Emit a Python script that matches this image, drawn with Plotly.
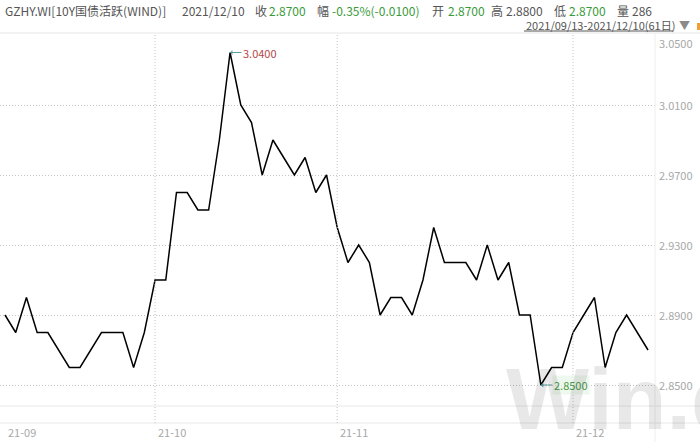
import plotly.graph_objects as go

# ---- data ----
values = [2.89, 2.88, 2.90, 2.88, 2.88, 2.87, 2.86, 2.86, 2.87, 2.88, 2.88, 2.88, 2.86, 2.88,
          2.91, 2.91, 2.96, 2.96, 2.95, 2.95, 2.99, 3.04, 3.01, 3.00, 2.97, 2.99, 2.98, 2.97, 2.98, 2.96, 2.97,
          2.94, 2.92, 2.93, 2.92, 2.89, 2.90, 2.90, 2.89, 2.91, 2.94, 2.92, 2.92, 2.92, 2.91, 2.93, 2.91, 2.92,
          2.89, 2.89, 2.85, 2.86, 2.86,
          2.88, 2.89, 2.90, 2.86, 2.88, 2.89, 2.88, 2.87]
x_labels = ["21-09", "21-10", "21-11", "21-12"]
x_label_idx = [0, 14, 31, 53]
y_ticks = [3.05, 3.01, 2.97, 2.93, 2.89, 2.85]

idx = list(range(len(values)))

W, H = 700, 442
PL, PR, PT, PB = 0, 655, 35, 406          # plot area in pixels
pw, ph = PR - PL, PB - PT

def px(x):
    return (x - PL) / pw

def py(y):
    return (PB - y) / ph

FONT = "Noto Sans CJK SC, Noto Sans, sans-serif"
GRAY_TXT = "#555555"
GREEN = "#3a9a3a"
AXIS_TXT = "#a8a8a8"
GRID_DASH = "1px,2px"

fig = go.Figure()
fig.add_trace(go.Scatter(x=idx, y=values, mode="lines",
                         line=dict(color="#000000", width=1.5),
                         hoverinfo="y", showlegend=False))

ann = []
# header line 1: (x, text, colour)
hdr = [
    (3, "GZHY.WI[10Y国债活跃(WIND)]", GRAY_TXT),
    (180, "2021/12/10", GRAY_TXT),
    (253, "收", GRAY_TXT), (267, "2.8700", GREEN),
    (315, "幅", GRAY_TXT), (330, "-0.35%(-0.0100)", GREEN),
    (430, "开", GRAY_TXT), (446, "2.8700", GREEN),
    (489, "高", GRAY_TXT), (504, "2.8800", GRAY_TXT),
    (552, "低", GRAY_TXT), (567, "2.8700", GREEN),
    (615, "量", GRAY_TXT), (630, "286", GRAY_TXT),
]
for x0, t, c in hdr:
    ann.append(dict(xref="paper", yref="paper", x=px(x0), y=py(10), text=t, showarrow=False,
                    xanchor="left", yanchor="middle", font=dict(family=FONT, size=12, color=c)))
# header line 2
ann.append(dict(xref="paper", yref="paper", x=px(524), y=py(25), text="2021/09/13-2021/12/10(61日)",
                showarrow=False, xanchor="left", yanchor="middle",
                font=dict(family=FONT, size=11, color=GRAY_TXT)))
ann.append(dict(xref="paper", yref="paper", x=px(677), y=py(25), text="▼",
                showarrow=False, xanchor="left", yanchor="middle",
                font=dict(family=FONT, size=11, color="#8a8a8a")))

# y tick labels (right)
for v in y_ticks:
    ann.append(dict(xref="paper", yref="y", x=1, y=v, text=f"{v:.4f}", showarrow=False,
                    xanchor="left", yanchor="middle", xshift=2, yshift=-8 if v == max(y_ticks) else 0,
                    font=dict(family=FONT, size=11, color=AXIS_TXT)))
# x labels
for i, t in zip(x_label_idx, x_labels):
    ann.append(dict(xref="x", yref="paper", x=i, y=0, text=t, showarrow=False,
                    xanchor="left", yanchor="middle", xshift=1, yshift=-26,
                    font=dict(family=FONT, size=11, color=AXIS_TXT)))

# max / min markers
imax = values.index(max(values))
imin = values.index(min(values))
ann.append(dict(xref="x", yref="y", x=imax, y=values[imax], text=f"{values[imax]:.4f}",
                showarrow=True, ax=30, ay=0, arrowhead=1, arrowsize=0.8, arrowwidth=1,
                arrowcolor="#5f9e9e", standoff=0,
                font=dict(family=FONT, size=11, color="#b04848")))
ann.append(dict(xref="x", yref="y", x=imin, y=values[imin], text=f"{values[imin]:.4f}",
                showarrow=True, ax=30, ay=0, arrowhead=1, arrowsize=0.8, arrowwidth=1,
                arrowcolor="#5f9e9e", standoff=0, bgcolor="rgba(232,245,232,0.7)",
                font=dict(family=FONT, size=11, color="#4a9a4a")))

# watermark
ann.append(dict(xref="paper", yref="paper", x=px(504), y=py(430), text="Win.d", showarrow=False,
                xanchor="left", yanchor="bottom", yshift=-20, opacity=0.085,
                font=dict(family="Liberation Sans, Arial, sans-serif",
                          size=88, color="#000000", weight="bold")))

shapes = []
# header separator
shapes.append(dict(type="line", xref="paper", yref="paper", x0=0, x1=W / pw, y0=py(33), y1=py(33),
                   line=dict(color="#e6e6e6", width=1)))
# underline of range text
shapes.append(dict(type="line", xref="paper", yref="paper", x0=px(524), x1=px(673), y0=py(31), y1=py(31),
                   line=dict(color="#555555", width=1)))
# bottom bands
shapes.append(dict(type="line", xref="paper", yref="paper", x0=0, x1=W / pw, y0=0, y1=0,
                   line=dict(color="#e8e8e8", width=1)))
shapes.append(dict(type="line", xref="paper", yref="paper", x0=0, x1=W / pw, y0=py(423), y1=py(423),
                   line=dict(color="#e8e8e8", width=1)))
# right separator
shapes.append(dict(type="line", xref="paper", yref="paper", x0=1, x1=1, y0=py(442), y1=py(33),
                   line=dict(color="#eeeeee", width=1)))
# vertical month gridlines
for i in x_label_idx[1:]:
    shapes.append(dict(type="line", xref="x", yref="paper", x0=i, x1=i, y0=py(423), y1=py(33),
                       line=dict(color="#c4c4c4", width=1, dash=GRID_DASH)))
# tiny orange corner mark
shapes.append(dict(type="rect", xref="paper", yref="paper", x0=px(697), x1=px(700), y0=py(30), y1=py(23),
                   line=dict(width=0), fillcolor="#f0a030"))

fig.update_layout(
    width=W, height=H,
    margin=dict(l=PL, r=W - PR, t=PT, b=H - PB),
    paper_bgcolor="white", plot_bgcolor="white",
    showlegend=False,
    annotations=ann, shapes=shapes,
    xaxis=dict(range=[-0.4666, 60.65], showgrid=False, zeroline=False, showticklabels=False,
               showline=False, fixedrange=True),
    yaxis=dict(range=[2.838, 3.05], tickvals=y_ticks[1:], showgrid=True, gridcolor="#c4c4c4",
               griddash=GRID_DASH, gridwidth=1, zeroline=False, showticklabels=False, showline=False,
               fixedrange=True),
)

fig.write_html("out.html", config={"displayModeBar": False},
               post_script="document.body.style.margin='0px';")
